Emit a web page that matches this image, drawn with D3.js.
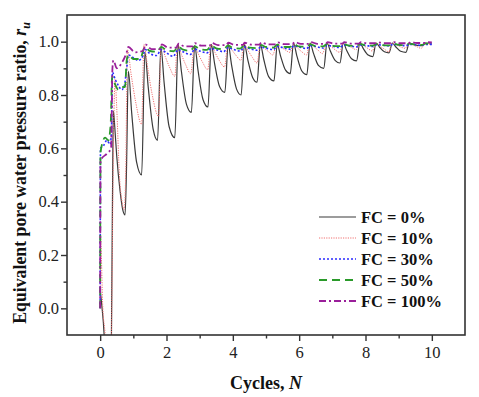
<!DOCTYPE html>
<html><head><meta charset="utf-8">
<script src="https://cdn.jsdelivr.net/npm/d3@7"></script>
<style>body{margin:0;background:#fff}</style>
</head><body>
<svg id="c" width="479" height="397"></svg>
<script>
const seriesLabels = ["FC = 0%", "FC = 10%", "FC = 30%", "FC = 50%", "FC = 100%"];

const fc0 = [[0,0.07],[0.05,0.01],[0.12,-0.1],[0.18,-0.3],[0.3,-0.3],[0.34,-0.1],[0.38,0.55],[0.4,0.74],[0.44,0.68],[0.5,0.57],[0.6,0.44],[0.68,0.37],[0.75,0.35],[0.79,0.5],
[0.85,0.89],[0.95,0.734],[1.1,0.547],[1.25,0.5],
[1.35,0.96],[1.45,0.828],[1.6,0.67],[1.73,0.63],
[1.83,0.98],[1.93,0.844],[2.08,0.681],[2.25,0.64],
[2.35,0.99],[2.45,0.888],[2.6,0.766],[2.75,0.735],
[2.85,0.985],[2.95,0.893],[3.1,0.783],[3.25,0.755],
[3.35,0.99],[3.45,0.918],[3.6,0.832],[3.76,0.81],
[3.86,0.99],[3.96,0.914],[4.11,0.823],[4.25,0.8],
[4.35,0.99],[4.45,0.933],[4.6,0.865],[4.73,0.848],
[4.83,0.99],[4.93,0.935],[5.08,0.869],[5.24,0.853],
[5.34,0.99],[5.44,0.946],[5.59,0.893],[5.73,0.88],
[5.83,0.995],[5.93,0.947],[6.08,0.89],[6.23,0.876],
[6.33,0.995],[6.43,0.957],[6.58,0.911],[6.74,0.9],
[6.84,0.995],[6.94,0.965],[7.09,0.929],[7.23,0.92],
[7.33,0.995],[7.43,0.968],[7.58,0.936],[7.73,0.928],
[7.83,0.995],[7.93,0.975],[8.08,0.95],[8.22,0.944],
[8.32,0.995],[8.42,0.98],[8.57,0.962],[8.71,0.958],
[8.81,0.995],[8.91,0.981],[9.06,0.964],[9.22,0.96],
[9.32,0.995],[9.42,0.991],[9.57,0.986],[9.7,0.985],
[9.8,0.995],[10.0,0.994]];

const fc10 = [[0,0.0],[0.01,0.27],[0.08,0.0],[0.15,-0.1],[0.22,-0.3],[0.3,-0.3],[0.34,-0.1],[0.4,0.6],[0.45,0.86],[0.5,0.75],[0.58,0.5],[0.66,0.4],[0.72,0.37],[0.77,0.5],
[0.82,0.97],[0.94,0.872],[1.07,0.774],[1.25,0.69],
[1.32,0.99],[1.44,0.896],[1.57,0.801],[1.76,0.72],
[1.84,0.985],[1.96,0.945],[2.09,0.905],[2.25,0.87],
[2.33,0.99],[2.45,0.952],[2.58,0.913],[2.73,0.88],
[2.84,0.985],[2.96,0.954],[3.09,0.922],[3.24,0.895],
[3.34,0.99],[3.46,0.96],[3.59,0.93],[3.75,0.905],
[3.85,0.99],[3.97,0.969],[4.1,0.948],[4.24,0.93],
[4.34,0.99],[4.46,0.966],[4.59,0.941],[4.73,0.92],
[4.83,0.99],[4.95,0.976],[5.08,0.962],[5.2,0.95],
[5.33,0.99],[5.45,0.98],[5.58,0.969],[5.72,0.96],
[5.83,0.99],[5.95,0.976],[6.08,0.962],[6.22,0.95],
[6.33,0.995],[6.45,0.981],[6.58,0.967],[6.7,0.955],
[6.83,0.995],[6.95,0.983],[7.08,0.97],[7.22,0.96],
[7.33,0.995],[7.45,0.986],[7.58,0.978],[7.72,0.97],
[7.83,0.995],[7.95,0.985],[8.08,0.974],[8.2,0.965],
[8.32,0.995],[8.44,0.983],[8.57,0.972],[8.7,0.962],
[8.8,0.995],[8.92,0.988],[9.05,0.981],[9.2,0.975],
[9.3,0.995],[9.42,0.988],[9.55,0.981],[9.68,0.975],
[9.78,0.99],[10.0,0.99]];

const fc30 = [[0,0.0],[0.01,0.6],[0.1,0.61],[0.2,0.63],[0.3,0.615],[0.34,0.66],[0.37,0.885],[0.45,0.86],[0.55,0.835],[0.65,0.82],[0.72,0.83],[0.8,0.9],[0.85,0.95],[1.0,0.94],[1.15,0.93],[1.3,0.95],[1.36,0.97],[1.5,0.955],[1.7,0.948],[1.84,0.97],[2.0,0.958],[2.2,0.945],[2.35,0.97],[2.5,0.962],[2.72,0.952],[2.85,0.972],[3.0,0.965],[3.22,0.958],[3.35,0.975],[3.5,0.97],[3.72,0.962],[3.86,0.978],[4.0,0.972],[4.22,0.965],[4.35,0.98],[4.5,0.974],[4.72,0.968],[4.84,0.98],[5.0,0.976],[5.22,0.97],[5.34,0.982],[5.5,0.978],[5.72,0.972],[5.84,0.984],[6.0,0.98],[6.22,0.974],[6.34,0.985],[6.5,0.982],[6.72,0.976],[6.84,0.986],[7.0,0.983],[7.22,0.978],[7.34,0.987],[7.5,0.985],[7.72,0.98],[7.84,0.988],[8.0,0.986],[8.22,0.982],[8.34,0.989],[8.5,0.987],[8.72,0.984],[8.82,0.99],[9.0,0.988],[9.22,0.985],[9.32,0.99],[9.5,0.989],[9.7,0.986],[9.8,0.99],[10.0,0.99]];

const fc50 = [[0,0.0],[0.01,0.585],[0.15,0.64],[0.25,0.63],[0.32,0.7],[0.36,0.87],[0.45,0.84],[0.55,0.82],[0.65,0.83],[0.75,0.83],[0.8,0.93],[0.85,0.95],[1.0,0.935],[1.2,0.935],[1.35,0.98],[1.5,0.965],[1.72,0.962],[1.84,0.98],[2.0,0.968],[2.22,0.964],[2.35,0.982],[2.5,0.97],[2.72,0.966],[2.85,0.983],[3.0,0.972],[3.22,0.969],[3.35,0.985],[3.5,0.975],[3.72,0.972],[3.86,0.986],[4.0,0.976],[4.22,0.974],[4.35,0.987],[4.5,0.978],[4.72,0.976],[4.84,0.988],[5.0,0.98],[5.22,0.978],[5.34,0.989],[5.5,0.981],[5.72,0.98],[5.84,0.99],[6.0,0.982],[6.22,0.981],[6.34,0.99],[6.5,0.983],[6.72,0.982],[6.84,0.991],[7.0,0.984],[7.22,0.983],[7.34,0.991],[7.5,0.985],[7.72,0.984],[7.84,0.992],[8.0,0.986],[8.22,0.985],[8.34,0.992],[8.5,0.987],[8.72,0.986],[8.82,0.993],[9.0,0.988],[9.22,0.987],[9.32,0.993],[9.5,0.989],[9.7,0.988],[9.8,0.993],[10.0,0.993]];

const fc100 = [[0,0.0],[0.01,0.554],[0.2,0.58],[0.33,0.6],[0.37,0.9],[0.4,0.93],[0.5,0.9],[0.65,0.92],[0.8,0.96],[0.85,0.98],[1.05,0.96],[1.3,0.966],[1.36,0.99],[1.55,0.972],[1.8,0.972],[1.86,0.99],[2.05,0.978],[2.3,0.978],[2.36,0.993],[2.55,0.982],[2.8,0.982],[2.86,0.994],[3.05,0.985],[3.3,0.985],[3.36,0.995],[3.55,0.987],[3.8,0.987],[3.86,0.996],[4.05,0.988],[4.3,0.988],[4.36,0.996],[4.55,0.989],[4.8,0.989],[4.86,0.997],[5.05,0.99],[5.3,0.99],[5.36,0.997],[5.55,0.991],[5.8,0.991],[5.86,0.998],[6.05,0.992],[6.3,0.992],[6.36,0.998],[6.55,0.992],[6.8,0.992],[6.86,0.998],[7.05,0.993],[7.3,0.993],[7.36,0.998],[7.55,0.993],[7.8,0.993],[7.86,0.998],[8.05,0.994],[8.3,0.994],[8.36,0.998],[8.55,0.994],[8.8,0.994],[8.86,0.998],[9.05,0.994],[9.3,0.994],[9.36,0.998],[9.55,0.995],[9.8,0.995],[9.86,0.998],[10.0,0.997]];

const xTicks = [0, 2, 4, 6, 8, 10];
const xMinorTicks = [1, 3, 5, 7, 9];
const yTicks = [0.0, 0.2, 0.4, 0.6, 0.8, 1.0];
const yMinorTicks = [0.1, 0.3, 0.5, 0.7, 0.9];

const allSeries = [fc0, fc10, fc30, fc50, fc100];
const styles = [
  {color:"#3a3a3a", width:1.2, dash:null},
  {color:"#f07070", width:1.0, dash:"1.2,1.2"},
  {color:"#2b2bff", width:1.6, dash:"2,2"},
  {color:"#2a9a2a", width:1.8, dash:"8,5"},
  {color:"#9a1f9a", width:1.8, dash:"7,3,2,3"}
];

const svg = d3.select("#c");
const L = 67, R = 465, T = 15, B = 335;
const x = d3.scaleLinear().domain([-1, 11]).range([L, R]);
const y = d3.scaleLinear().domain([-0.1, 1.1]).range([B, T]);
const font = "'Liberation Serif','Times New Roman',serif";

svg.append("defs").append("clipPath").attr("id","clip")
  .append("rect").attr("x",L).attr("y",T).attr("width",R-L).attr("height",B-T);

const line = d3.line().x(d=>x(d[0])).y(d=>y(d[1])).curve(d3.curveMonotoneX);
const g = svg.append("g").attr("clip-path","url(#clip)");
allSeries.forEach((s,i)=>{
  const st = styles[i];
  g.append("path").datum(s).attr("d",line).attr("fill","none")
    .attr("stroke",st.color).attr("stroke-width",st.width)
    .attr("stroke-dasharray",st.dash).attr("stroke-linejoin","round");
});

// axes
const xAxis = svg.append("g").attr("transform",`translate(0,${B})`)
  .call(d3.axisBottom(x).tickValues(xTicks).tickSize(6).tickPadding(5).tickFormat(d3.format("d")));
const xMin = svg.append("g").attr("transform",`translate(0,${B})`)
  .call(d3.axisBottom(x).tickValues(xMinorTicks).tickSize(3.5).tickFormat(""));
const yAxis = svg.append("g").attr("transform",`translate(${L},0)`)
  .call(d3.axisLeft(y).tickValues(yTicks).tickSize(6).tickPadding(2).tickFormat(d3.format(".1f")));
const yMin = svg.append("g").attr("transform",`translate(${L},0)`)
  .call(d3.axisLeft(y).tickValues(yMinorTicks).tickSize(3.5).tickFormat(""));
[xAxis,xMin,yAxis,yMin].forEach(a=>{
  a.select(".domain").remove();
  a.selectAll("line").attr("stroke","#333").attr("stroke-width",1.4);
  a.selectAll("text").attr("font-family",font).attr("font-size",16.5).attr("fill","#222");
});

svg.append("rect").attr("x",L).attr("y",T).attr("width",R-L).attr("height",B-T)
  .attr("fill","none").attr("stroke","#333").attr("stroke-width",1.6);

// axis titles
const xt = svg.append("text").attr("x",266).attr("y",389).attr("text-anchor","middle")
  .attr("font-family",font).attr("font-size",18).attr("font-weight","bold").attr("fill","#111");
xt.append("tspan").text("Cycles, ");
xt.append("tspan").attr("font-style","italic").text("N");

const yt = svg.append("text").attr("transform","translate(26,173) rotate(-90)").attr("text-anchor","middle")
  .attr("font-family",font).attr("font-size",17.8).attr("font-weight","bold").attr("fill","#111");
yt.append("tspan").text("Equivalent pore water pressure ratio, ");
yt.append("tspan").attr("font-style","italic").text("r");
yt.append("tspan").attr("font-style","italic").attr("font-size",12).attr("dy",4).text("u");

// legend
const leg = svg.append("g");
seriesLabels.forEach((lab,i)=>{
  const cy = 217 + i*21;
  const st = styles[i];
  leg.append("line").attr("x1",319).attr("x2",356).attr("y1",cy).attr("y2",cy)
    .attr("stroke",st.color).attr("stroke-width",st.width).attr("stroke-dasharray",st.dash);
  leg.append("text").attr("x",361).attr("y",cy+5.5).text(lab)
    .attr("font-family",font).attr("font-size",16.5).attr("font-weight","bold").attr("fill","#111");
});
</script>
</body></html>
